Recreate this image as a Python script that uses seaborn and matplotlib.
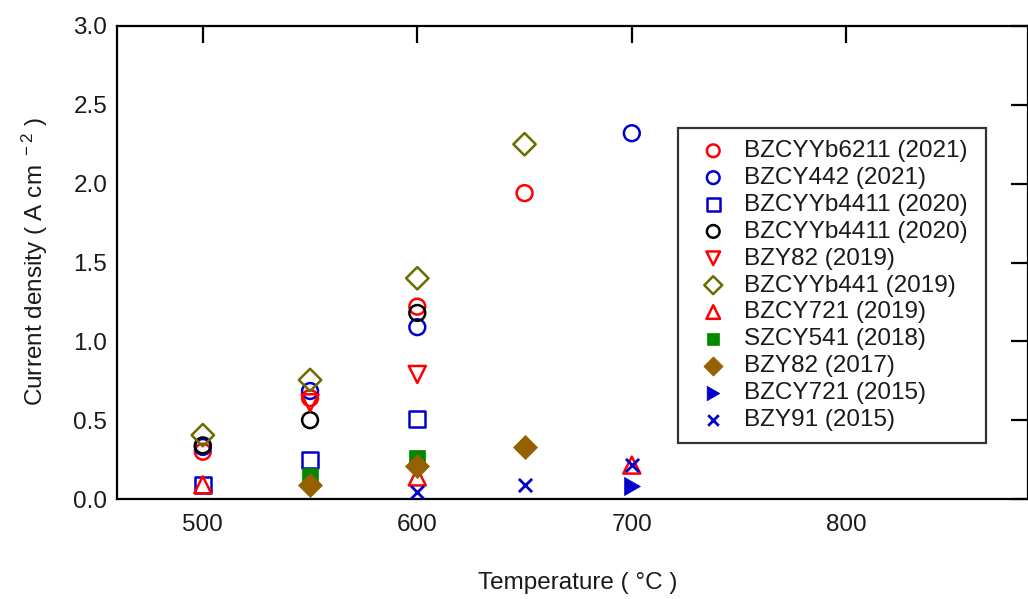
import matplotlib
matplotlib.use("Agg")
import matplotlib.pyplot as plt
import seaborn as sns
import pandas as pd

sns.set_theme(style="white")
plt.rcParams['font.family'] = ['Liberation Sans', 'DejaVu Sans']
plt.rcParams['mathtext.default'] = 'regular'

# ---- data ----
labels = ["BZCYYb6211 (2021)", "BZCY442 (2021)", "BZCYYb4411 (2020)", "BZCYYb4411 (2020) ",
          "BZY82 (2019)", "BZCYYb441 (2019)", "BZCY721 (2019)", "SZCY541 (2018)",
          "BZY82 (2017)", "BZCY721 (2015)", "BZY91 (2015)"]
x_bzcyyb6211 = [500, 550, 600, 650]
y_bzcyyb6211 = [0.30, 0.64, 1.22, 1.94]
x_bzcy442 = [500, 550, 600, 700]
y_bzcy442 = [0.33, 0.685, 1.09, 2.32]
x_bzcyyb4411a = [500, 550, 600]
y_bzcyyb4411a = [0.09, 0.25, 0.51]
x_bzcyyb4411b = [500, 550, 600]
y_bzcyyb4411b = [0.34, 0.50, 1.18]
x_bzy82_2019 = [550, 600]
y_bzy82_2019 = [0.61, 0.79]
x_bzcyyb441 = [500, 550, 600, 650]
y_bzcyyb441 = [0.405, 0.755, 1.40, 2.25]
x_bzcy721_2019 = [500, 600, 700]
y_bzcy721_2019 = [0.09, 0.14, 0.215]
x_szcy541 = [550, 600]
y_szcy541 = [0.145, 0.26]
x_bzy82_2017 = [550, 600, 650]
y_bzy82_2017 = [0.09, 0.21, 0.33]
x_bzcy721_2015 = [700]
y_bzcy721_2015 = [0.08]
x_bzy91 = [600, 650, 700]
y_bzy91 = [0.045, 0.09, 0.215]

xs = [x_bzcyyb6211, x_bzcy442, x_bzcyyb4411a, x_bzcyyb4411b, x_bzy82_2019, x_bzcyyb441,
      x_bzcy721_2019, x_szcy541, x_bzy82_2017, x_bzcy721_2015, x_bzy91]
ys = [y_bzcyyb6211, y_bzcy442, y_bzcyyb4411a, y_bzcyyb4411b, y_bzy82_2019, y_bzcyyb441,
      y_bzcy721_2019, y_szcy541, y_bzy82_2017, y_bzcy721_2015, y_bzy91]

# ---- styles ----
colors = ["#ff0000", "#0000cc", "#0000cc", "#000000", "#ff0000", "#6b6b00",
          "#ff0000", "#008800", "#946000", "#0000cc", "#0000cc"]
markers = ["o", "o", "s", "o", "v", "D", "^", "s", "D", "$\u25B6$", "x"]
filled = [False, False, False, False, False, False, False, True, True, True, True]
sizes = [130, 130, 130, 130, 150, 130, 150, 120, 150, 170, 90]

FS = 17.5

fig = plt.figure(figsize=(10.28, 5.99), dpi=100)
ax = fig.add_axes([117/1028, 1 - 499/599, 1 - 117/1028, (499 - 26)/599])

for lab, x, y, c, m, f, s in zip(labels, xs, ys, colors, markers, filled, sizes):
    df = pd.DataFrame({"T": x, "J": y})
    if m == "x":
        sns.scatterplot(data=df, x="T", y="J", marker="x", color=c, s=s, linewidth=2,
                        ax=ax, label=lab, zorder=3)
    elif f:
        sns.scatterplot(data=df, x="T", y="J", marker=m, color=c, edgecolor=c, s=s,
                        linewidth=0.5, ax=ax, label=lab, zorder=3)
    else:
        sns.scatterplot(data=df, x="T", y="J", marker=m, facecolors="none", edgecolor=c,
                        s=s, linewidth=1.8, ax=ax, label=lab, zorder=3)

ax.set_xlim(460, 884.7)
ax.set_ylim(0, 3.0)
ax.set_xticks([500, 600, 700, 800])
ax.set_yticks([0, 0.5, 1.0, 1.5, 2.0, 2.5, 3.0])
ax.set_yticklabels(["0.0", "0.5", "1.0", "1.5", "2.0", "2.5", "3.0"])

for sp in ax.spines.values():
    sp.set_visible(True)
    sp.set_color("black")
    sp.set_linewidth(1.6)

ax.tick_params(axis="both", which="major", direction="in", length=12, width=1.6,
               labelsize=FS, colors="black", top=True, right=True)
ax.tick_params(axis="x", pad=11)
ax.tick_params(axis="y", pad=7)
ax.tick_params(axis="both", labelcolor="#1a1a1a")

ax.set_xlabel("Temperature ( °C )", fontsize=FS, color="#1a1a1a")
ax.set_ylabel("Current density ( A cm$^{\\ -2}$ )", fontsize=FS, color="#1a1a1a")
ax.xaxis.set_label_coords((578 - 117) / (1028 - 117), -(583 - 499) / 473)
ax.yaxis.set_label_coords(-(117 - 35) / (1028 - 117), (499 - 262) / 473)
ax.yaxis.label.set_verticalalignment("center")
ax.xaxis.label.set_verticalalignment("center")

leg = ax.legend(loc="upper left", bbox_to_anchor=(678/1028, 1 - 128/599),
                bbox_transform=fig.transFigure, frameon=True, fancybox=False,
                fontsize=FS, labelspacing=0.2, handletextpad=0.3,
                borderpad=0.5, borderaxespad=0, handlelength=1.9, markerscale=0.8)
leg.get_frame().set_edgecolor("black")
leg.get_frame().set_linewidth(1.6)
for t in leg.get_texts():
    t.set_color("#1a1a1a")

fig.savefig("out.png", dpi=100)
